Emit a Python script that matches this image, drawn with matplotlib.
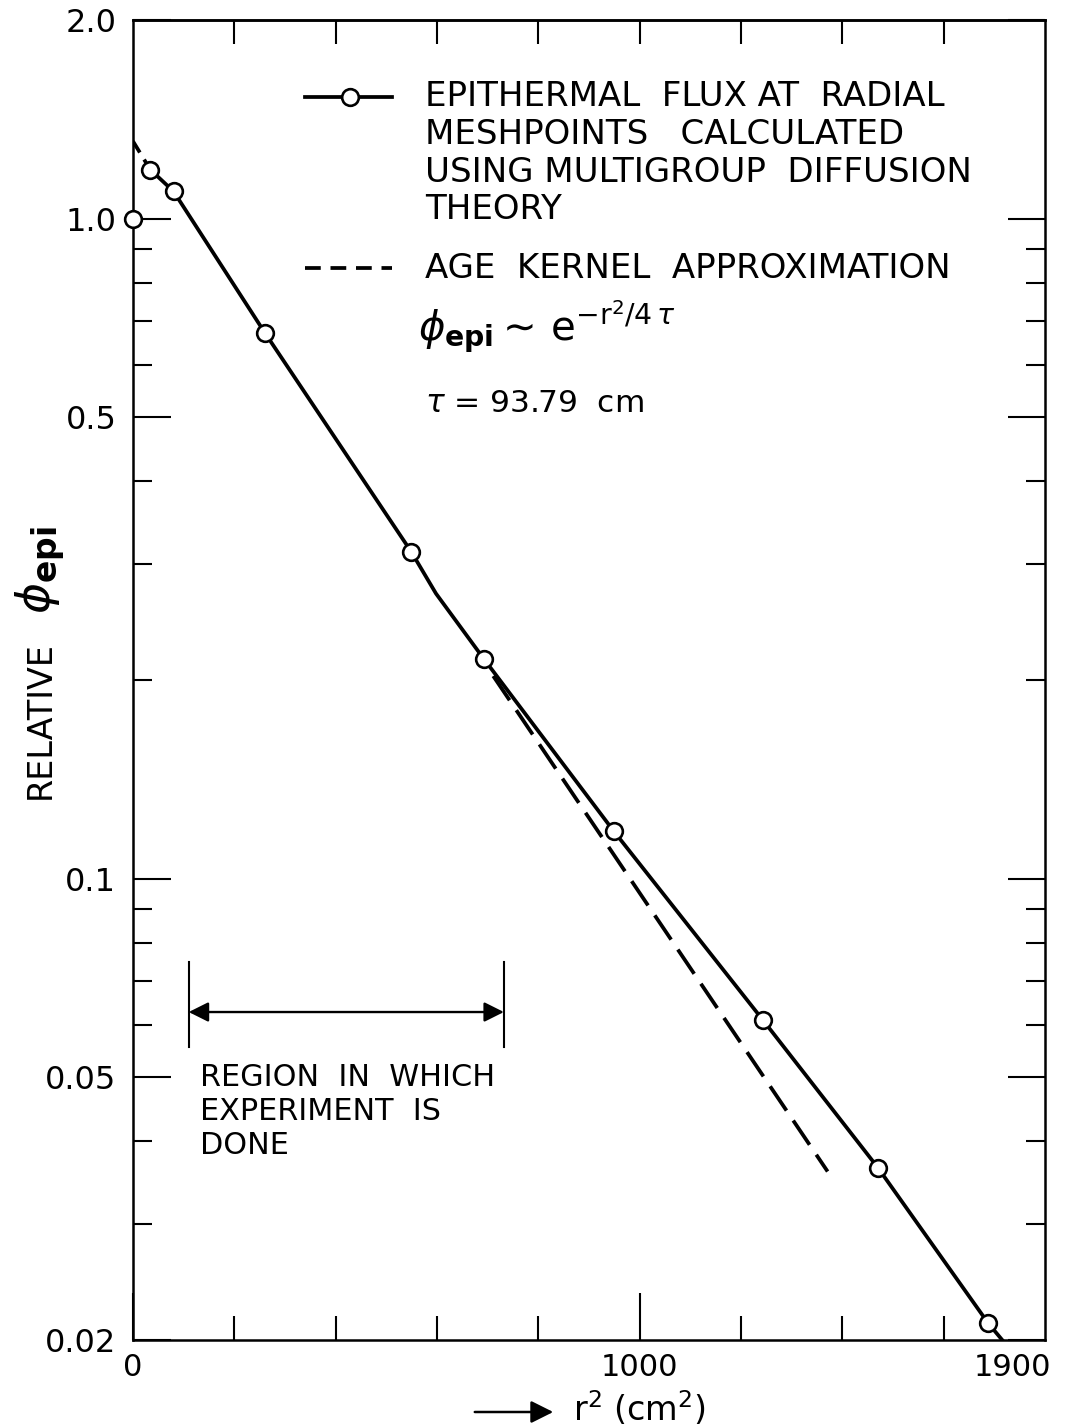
import numpy as np
import matplotlib
matplotlib.use("Agg")
import matplotlib.pyplot as plt
from matplotlib.ticker import FixedLocator, NullFormatter
from matplotlib.transforms import offset_copy

plt.rcParams['font.family'] = ['DejaVu Sans']
plt.rcParams['mathtext.fontset'] = 'dejavusans'

# ---- data ----
mesh_r2 = [0, 34, 80, 260, 549, 693, 949, 1243, 1470, 1688]
mesh_phi = [1.00, 1.187, 1.10, 0.672, 0.313, 0.215, 0.118, 0.0611, 0.0365, 0.0212]

# solid curve through mesh points (starts at 2nd point, small kink, runs to the axis)
curve_r2 = [34, 80, 260, 549, 598, 693, 949, 1243, 1470, 1688, 1730]
curve_phi = [1.187, 1.10, 0.672, 0.313, 0.2704, 0.215, 0.118, 0.0611, 0.0365, 0.0212, 0.0194]

# age kernel approximation (dashed), visible pieces
age_top_r2 = [0, 34]
age_top_phi = [1.31, 1.187]
age_low_r2 = [711, 1371]
age_low_phi = [0.2028, 0.0360]

region_r2 = [110, 732]
region_phi = 0.0628
region_bar = [0.0555, 0.0748]

y_major = [0.02, 0.05, 0.1, 0.5, 1.0, 2.0]
y_major_labels = ["0.02", "0.05", "0.1", "0.5", "1.0", "2.0"]
y_minor = [0.9, 0.8, 0.7, 0.6, 0.4, 0.3, 0.2, 0.09, 0.08, 0.07, 0.06, 0.04, 0.03]
x_major = [0, 1000]
x_major_labels = ["0", "1000"]
x_minor = [200, 400, 600, 800, 1200, 1400, 1600]

W, H = 1070, 1427
fig = plt.figure(figsize=(W / 100, H / 100), dpi=100)
L, R, T, B = 133, 1045, 20, 1340
ax = fig.add_axes([L / W, 1 - B / H, (R - L) / W, (B - T) / H])
ax.set_yscale('log')
ax.set_xlim(0, 1800)
ax.set_ylim(0.02, 2.0)
for s in ax.spines.values():
    s.set_linewidth(1.8)

lw = 2.7
ax.plot(curve_r2, curve_phi, color='black', lw=lw, solid_capstyle='butt', zorder=3)
ax.plot(age_top_r2, age_top_phi, color='black', lw=lw, dashes=(3.5, 2.2), zorder=2)
ax.plot(age_low_r2, age_low_phi, color='black', lw=lw, dashes=(7.8, 3.2), zorder=2)
ax.plot(mesh_r2, mesh_phi, linestyle='none', marker='o', ms=12, mfc='white',
        mec='black', mew=1.9, zorder=5, clip_on=False)

# ticks
ax.yaxis.set_major_locator(FixedLocator(y_major))
ax.set_yticklabels(y_major_labels)
ax.yaxis.set_minor_locator(FixedLocator(y_minor))
ax.yaxis.set_minor_formatter(NullFormatter())
ax.xaxis.set_major_locator(FixedLocator(x_major))
ax.set_xticklabels(x_major_labels)
ax.xaxis.set_minor_locator(FixedLocator(x_minor))
ax.tick_params(axis='y', which='major', direction='in', length=27, width=1.5,
               left=True, right=True, labelsize=23, pad=12)
ax.tick_params(axis='y', which='minor', direction='in', length=14, width=1.5,
               left=True, right=True)
ax.tick_params(axis='x', which='major', direction='in', length=34, width=1.5,
               bottom=True, top=False, labelsize=22, pad=9)
ax.tick_params(axis='x', which='minor', direction='in', length=17, width=1.5,
               bottom=True, top=False)
sec = ax.secondary_xaxis('top')
sec.set_xticks(x_minor[:4] + [1000] + x_minor[4:])
sec.set_xticklabels([])
sec.tick_params(direction='in', length=17, width=1.5)
sec.spines['top'].set_linewidth(1.8)
ax.text(1735, 0.02, "1900", ha='center', va='top', fontsize=22,
        transform=offset_copy(ax.transData, fig=fig, y=-9, units='points'))

# legend (manual)
def ax_frac(px, py):
    return (px - L) / (R - L), 1 - (py - T) / (B - T)

x1, y1 = ax_frac(305, 97)
x2, _ = ax_frac(392, 97)
xm, _ = ax_frac(350, 97)
ax.plot([x1, x2], [y1, y1], transform=ax.transAxes, color='black', lw=lw, clip_on=False)
ax.plot([xm], [y1], transform=ax.transAxes, marker='o', ms=12, mfc='white',
        mec='black', mew=1.9, clip_on=False)
lines1 = ["EPITHERMAL  FLUX AT  RADIAL", "MESHPOINTS   CALCULATED",
          "USING MULTIGROUP  DIFFUSION", "THEORY"]
for i, t in enumerate(lines1):
    tx, ty = ax_frac(425, 97 + i * 37.5)
    ax.text(tx, ty, t, transform=ax.transAxes, fontsize=24.5, va='center', ha='left')

x1, y2 = ax_frac(305, 268)
ax.plot([x1, x2], [y2, y2], transform=ax.transAxes, color='black', lw=lw,
        dashes=(4.2, 2.6), clip_on=False)
tx, ty = ax_frac(425, 268)
ax.text(tx, ty, "AGE  KERNEL  APPROXIMATION", transform=ax.transAxes, fontsize=24.5,
        va='center', ha='left')
tx, ty = ax_frac(418, 326)
ax.text(tx, ty, r"$\phi_{\mathbf{epi}}\sim\,\mathrm{e}^{-\mathrm{r}^2/4\,\tau}$",
        transform=ax.transAxes, fontsize=29, va='center', ha='left')
tx, ty = ax_frac(425, 403)
ax.text(tx, ty, r"$\tau$ = 93.79  cm", transform=ax.transAxes, fontsize=22.5,
        va='center', ha='left')

# region annotation
ax.annotate("", xy=(region_r2[0], region_phi), xytext=(region_r2[1], region_phi),
            arrowprops=dict(arrowstyle='<|-|>', color='black', lw=1.7,
                            mutation_scale=30, shrinkA=0, shrinkB=0))
for xr in region_r2:
    ax.plot([xr, xr], region_bar, color='black', lw=1.5)
for i, t in enumerate(["REGION  IN  WHICH", "EXPERIMENT  IS", "DONE"]):
    tx, ty = ax_frac(200, 1077 + i * 34)
    ax.text(tx, ty, t, transform=ax.transAxes, fontsize=21.8, va='center', ha='left')

# axis labels
fig.text(40 / W, 1 - 720 / H, "RELATIVE", rotation=90,
         fontsize=24, va='center', ha='center')
fig.text(40 / W, 1 - 570 / H, r"$\phi_{\mathbf{epi}}$", rotation=90,
         fontsize=34, va='center', ha='center')
fig.patches.append(matplotlib.patches.FancyArrowPatch(
    (472 / W, 1 - 1412 / H), (556 / W, 1 - 1412 / H), transform=fig.transFigure,
    arrowstyle='-|>', mutation_scale=34, color='black', lw=1.8))
fig.text(573 / W, 1 - 1409 / H, r"r$^{2}$ (cm$^{2}$)", fontsize=24, va='center', ha='left')

fig.savefig("out.png", dpi=100, facecolor='white')
